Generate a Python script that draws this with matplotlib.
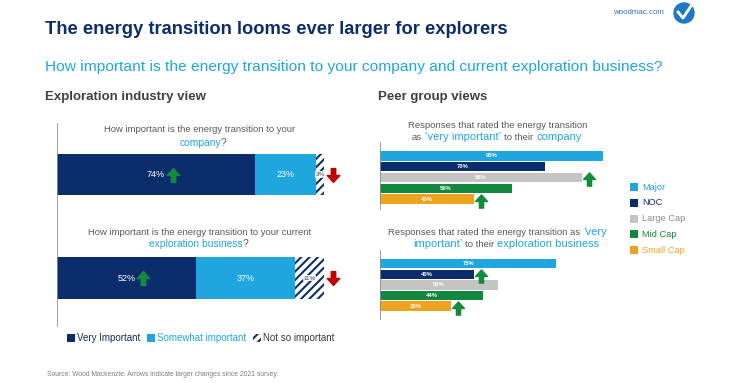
import numpy as np
import matplotlib.pyplot as plt
from matplotlib.path import Path
from matplotlib.patches import Rectangle, Ellipse
from matplotlib.transforms import ScaledTranslation

# --- data -------------------------------------------------------------
left_rows = ["company", "exploration business"]
very_important = [74, 52]
somewhat_important = [23, 37]
not_so_important = [3, 11]
very_up = [True, True]        # green arrows (larger change since 2021)
notso_down = [True, True]     # red arrows

groups = ["Major", "NOC", "Large Cap", "Mid Cap", "Small Cap"]
company_vi = [95, 70, 86, 56, 40]
exploration_vi = [75, 40, 50, 44, 30]
company_up = ["Large Cap", "Small Cap"]
exploration_up = ["NOC", "Small Cap"]

# --- style ------------------------------------------------------------
NAVY = "#0c2d6b"
CYAN = "#1fa6de"
GREY_BAR = "#c4c4c4"
GREEN = "#13873f"
GOLD = "#eca41f"
ARROW_G = "#148a3c"
ARROW_R = "#c00000"
TXT = "#595959"
group_colors = [CYAN, NAVY, GREY_BAR, GREEN, GOLD]
legend_txt_colors = [CYAN, NAVY, "#8c8c8c", GREEN, GOLD]

plt.rcParams["font.family"] = ["Liberation Sans", "DejaVu Sans"]
plt.rcParams["hatch.linewidth"] = 1.5

W, H = 733, 383
fig = plt.figure(figsize=(W / 100, H / 100), dpi=100)
renderer = fig.canvas.get_renderer()


def fx(x):
    return x / W


def fy(y):
    return 1 - y / H


def add_ax(x0, y0, x1, y1):
    # pixel box, origin top-left
    return fig.add_axes([fx(x0), fy(y1), (x1 - x0) / W, (y1 - y0) / H])


def text_w(s, size, weight="normal"):
    t = fig.text(0, 0, s, fontsize=size, fontweight=weight)
    w = t.get_window_extent(renderer).width
    t.remove()
    return w


def rich(pieces, xc, y):
    # one centred line built from coloured pieces, y is the baseline
    items, total = [], 0
    for s, color, size, weight in pieces:
        gap = 0
        if s.startswith(" "):
            gap = text_w("x x", size) - text_w("xx", size)
            s = s.strip()
        t = fig.text(0, fy(y), s, color=color, fontsize=size,
                     fontweight=weight, va="baseline")
        w = t.get_window_extent(renderer).width
        items.append((t, gap, w))
        total += gap + w
    x = xc - total / 2
    for t, gap, w in items:
        x += gap
        t.set_x(fx(x))
        x += w


# arrow marker
up_arrow = Path([(-0.45, 0.0), (0, 0.5), (0.45, 0.0), (0.16, 0.0),
                 (0.16, -0.5), (-0.16, -0.5), (-0.16, 0.0), (-0.45, 0.0)],
                [Path.MOVETO] + [Path.LINETO] * 6 + [Path.CLOSEPOLY])
down_arrow = Path(up_arrow.vertices * [1, -1], up_arrow.codes)


def shifted(ax, dx_px, dy_px=0):
    return ax.transData + ScaledTranslation(dx_px / 100, -dy_px / 100,
                                            fig.dpi_scale_trans)


# --- header -----------------------------------------------------------
fig.text(fx(45), fy(30), "The energy transition looms ever larger for explorers",
         fontsize=13.2, fontweight="bold", color=NAVY, va="center")
fig.text(fx(45), fy(67), "How important is the energy transition to your "
         "company and current exploration business?",
         fontsize=11.15, color=CYAN, va="center")
fig.text(fx(45), fy(97), "Exploration industry view", fontsize=9.5,
         fontweight="bold", color="#404040", va="center")
fig.text(fx(378), fy(97), "Peer group views", fontsize=9.5,
         fontweight="bold", color="#404040", va="center")
fig.text(fx(664), fy(12), "woodmac.com", fontsize=5.7, color="#3a6fb0",
         va="center", ha="right")
fig.add_artist(Ellipse((fx(684), fy(13)), 20 / W, 20 / H,
                       transform=fig.transFigure, color="#1f78c1"))
fig.add_artist(plt.Line2D([fx(678), fx(683), fx(691)],
                          [fy(12), fy(18), fy(6)], color="white", lw=2,
                          transform=fig.transFigure))

# --- left: industry view ---------------------------------------------
ax1 = add_ax(57, 123, 324, 327)
rows = np.arange(len(left_rows))
very = np.array(very_important)
some = np.array(somewhat_important)
notso = np.array(not_so_important)
ax1.barh(rows, very, height=0.4, color=NAVY)
ax1.barh(rows, some, left=very, height=0.4, color=CYAN)
ax1.barh(rows, notso, left=very + some, height=0.4, color="white",
         edgecolor=NAVY, hatch="////", lw=0)
for i in rows:
    ax1.text(very[i] / 2, i, f"{very[i]}%", color="white", fontsize=6.5,
             ha="center", va="center")
    ax1.text(very[i] + some[i] / 2, i, f"{some[i]}%", color="white",
             fontsize=6.5, ha="center", va="center")
    ax1.text(very[i] + some[i] + notso[i] / 2, i, f"{notso[i]}%", color=TXT,
             fontsize=4.5, ha="center", va="center",
             bbox=dict(facecolor="white", edgecolor="none", pad=0.5,
                       alpha=0.85))
    if very_up[i]:
        ax1.plot(very[i] / 2, i, marker=up_arrow, ms=10, color=ARROW_G,
                 transform=shifted(ax1, 17), clip_on=False)
    if notso_down[i]:
        ax1.plot(100, i, marker=down_arrow, ms=10, color=ARROW_R,
                 transform=shifted(ax1, 9), clip_on=False)
ax1.set_xlim(0, 100)
ax1.set_ylim(1.473, -0.498)
ax1.axis("off")
ax1.axvline(0, color="#8c8c8c", lw=1.2)

rich([("How important is the energy transition to your", TXT, 6.8, "normal")],
     200, 132)
rich([("company", CYAN, 7.4, "normal"), ("?", TXT, 7.4, "normal")], 203, 145.5)
rich([("How important is the energy transition to your current", TXT, 6.8,
       "normal")], 200, 235)
rich([("exploration business", CYAN, 7.4, "normal"), ("?", TXT, 7.4, "normal")],
     199, 247.5)

# left legend
leg_items = [(67, NAVY, None, "Very Important", "#1c2c55"),
             (147, CYAN, None, "Somewhat important", CYAN),
             (253, "white", "////", "Not so important", "#3a3a3a")]
for x, fc, hatch, label, tc in leg_items:
    fig.add_artist(Rectangle((fx(x), fy(342)), 8 / W, 8 / H, facecolor=fc,
                             edgecolor=NAVY, hatch=hatch, lw=0,
                             transform=fig.transFigure))
    fig.text(fx(x + 10), fy(338), label, fontsize=7, color=tc, va="center")

# --- right: peer group views -----------------------------------------
ax2 = add_ax(380, 142, 615, 210)
ax3 = add_ax(380, 250, 615, 320)
pos = np.arange(len(groups))
for ax, vals, ups, lims in [(ax2, company_vi, company_up, (5.02, -1.30)),
                            (ax3, exploration_vi, exploration_up, (5.31, -1.29))]:
    ax.barh(pos, vals, height=0.88, color=group_colors)
    for i, v in enumerate(vals):
        ax.text(v / 2, i, f"{v}%", color="white", fontsize=4.2,
                fontweight="bold", ha="center", va="center")
        if groups[i] in ups:
            ax.plot(v, i + 0.15, marker=up_arrow, ms=9.5, color=ARROW_G,
                    transform=shifted(ax, 7), clip_on=False)
    ax.set_xlim(0, 100)
    ax.set_ylim(*lims)
    ax.axis("off")
    ax.axvline(0, color="#8c8c8c", lw=1.2)

rich([("Responses that rated the energy transition", TXT, 6.8, "normal")],
     497.5, 128)
rich([("as", TXT, 6.8, "normal"), (" \u2018very important\u2019", CYAN, 8, "normal"),
      (" to their", TXT, 6.8, "normal"), (" company", CYAN, 8, "normal")],
     497, 140.5)
rich([("Responses that rated the energy transition as", TXT, 6.8, "normal"),
      (" \u2018very", CYAN, 8, "normal")], 498, 235)
rich([("important\u2019", CYAN, 8, "normal"), (" to their", TXT, 6.8, "normal"),
      (" exploration business", CYAN, 8, "normal")], 506, 247.5)

# right legend
for i, g in enumerate(groups):
    y = 187 + i * 15.8
    fig.add_artist(Rectangle((fx(630), fy(y + 4)), 8 / W, 8 / H,
                             facecolor=group_colors[i], lw=0,
                             transform=fig.transFigure))
    fig.text(fx(642), fy(y), g, fontsize=6.7, color=legend_txt_colors[i],
             va="center")

fig.text(fx(47), fy(375), "Source: Wood Mackenzie. Arrows indicate larger "
         "changes since 2021 survey.", fontsize=4.9, color="#7f7f7f",
         va="center")

fig.savefig("out.png", dpi=100)
